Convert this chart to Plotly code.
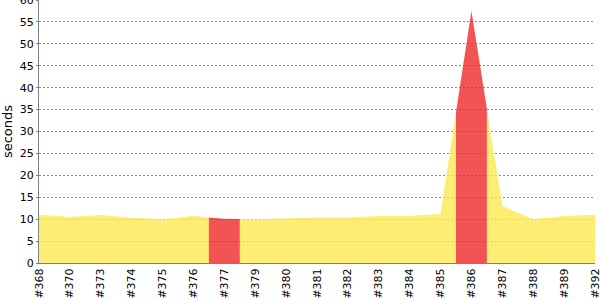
import plotly.graph_objects as go

builds = ["#368", "#370", "#373", "#374", "#375", "#376", "#377", "#379", "#380", "#381",
          "#382", "#383", "#384", "#385", "#386", "#387", "#388", "#389", "#392"]
durations = [11.0, 10.5, 10.95, 10.3, 10.0, 10.7, 10.1, 10.0, 10.2, 10.4,
             10.4, 10.7, 10.7, 11.25, 57.5, 13.0, 10.0, 10.7, 11.0]
status = ["unstable"] * 6 + ["failed"] + ["unstable"] * 7 + ["failed"] + ["unstable"] * 4
colors = {"unstable": "rgba(252,233,79,0.8)", "failed": "rgba(239,41,41,0.8)"}

n = len(builds)
idx = list(range(n))


def boundary(i, side):
    # x and y at the half-way point between category i and its neighbour
    j = i + side
    if j < 0 or j >= n:
        return float(i), durations[i]
    return i + side * 0.5, (durations[i] + durations[j]) / 2.0


# group consecutive builds of the same status into runs
runs = []
start = 0
for i in range(1, n + 1):
    if i == n or status[i] != status[start]:
        runs.append((start, i - 1, status[start]))
        start = i

polys = {"unstable": ([], []), "failed": ([], [])}
for a, b, st in runs:
    xs, ys = polys[st]
    xl, yl = boundary(a, -1)
    xr, yr = boundary(b, 1)
    px = [xl, xl] + idx[a:b + 1] + [xr, xr, xl]
    py = [0, yl] + durations[a:b + 1] + [yr, 0, 0]
    if xs:
        xs.append(None)
        ys.append(None)
    xs.extend(px)
    ys.extend(py)

fig = go.Figure()
for st in ["unstable", "failed"]:
    xs, ys = polys[st]
    fig.add_trace(go.Scatter(x=xs, y=ys, mode="lines", fill="toself",
                             fillcolor=colors[st], line=dict(width=0),
                             hoverinfo="skip", showlegend=False))

fig.update_layout(
    width=600, height=300,
    margin=dict(l=39, r=5, t=0, b=37),
    paper_bgcolor="white", plot_bgcolor="white",
    font=dict(family="DejaVu Sans", size=11, color="#000000"),
    showlegend=False,
)
fig.update_xaxes(
    range=[0, n - 1], tickmode="array", tickvals=idx, ticktext=builds,
    tickangle=-90, showgrid=False, zeroline=False,
    showline=True, linecolor="#808080", linewidth=1,
    ticks="", ticklabeloverflow="allow", automargin=False,
    tickfont=dict(size=11), fixedrange=True,
)
fig.update_yaxes(
    range=[0, 60], dtick=5, showgrid=True, gridcolor="#8c8c8c",
    griddash="2px,2px", gridwidth=1, zeroline=False,
    showline=True, linecolor="#808080", linewidth=1,
    ticks="outside", ticklen=2, tickcolor="#808080",
    ticklabeloverflow="allow", automargin=False,
    tickfont=dict(size=11),
    title=dict(text="seconds", font=dict(size=13), standoff=5),
)

fig.write_html("out.html")
